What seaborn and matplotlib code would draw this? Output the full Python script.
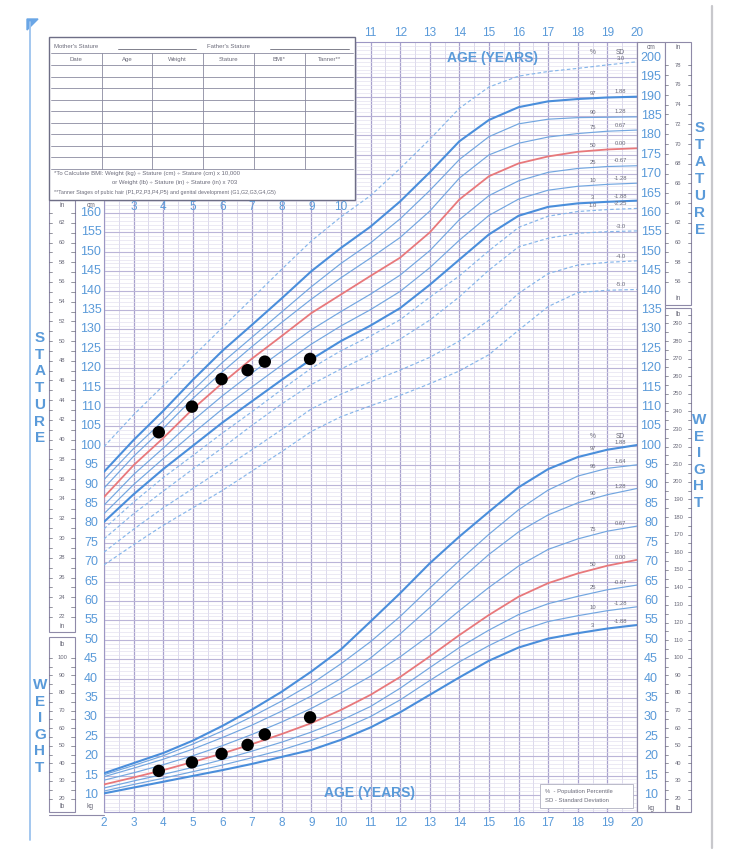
#growth chart: stature and weight for age, boys 2 to 20 years
import numpy as np
import pandas as pd
import seaborn as sns
import matplotlib.pyplot as plt
from matplotlib.patches import Rectangle, Polygon
from matplotlib.transforms import blended_transform_factory

sns.set_theme(style='white')
plt.rcParams['font.family'] = ['Liberation Sans', 'DejaVu Sans']

##### data #####
ages = list(range(2, 21))

# stature (cm)
st_sd_p30 = [99.8, 108.0, 115.5, 123.0, 130.5, 138.0, 145.5, 152.8, 159.0, 164.5, 171.5, 179.0, 187.0, 192.5, 195.3, 196.5, 197.3, 198.2, 199.0]
st_p97 = [93.3, 101.5, 109.0, 117.0, 124.5, 131.2, 138.0, 145.0, 151.0, 156.5, 163.0, 170.5, 178.5, 184.0, 187.3, 188.8, 189.4, 189.8, 190.0]
st_p90 = [91.3, 99.3, 106.5, 114.3, 121.5, 128.0, 134.5, 141.0, 147.0, 152.3, 158.5, 165.8, 173.8, 179.7, 183.0, 184.2, 184.6, 184.7, 184.8]
st_p75 = [89.1, 97.3, 104.5, 112.2, 119.1, 125.6, 131.8, 137.8, 143.3, 148.4, 153.7, 160.5, 169.0, 175.0, 178.0, 179.6, 180.5, 181.1, 181.4]
st_p50 = [86.8, 95.0, 102.0, 109.5, 116.2, 122.5, 128.3, 134.2, 139.0, 143.8, 148.5, 155.0, 163.5, 169.5, 172.8, 174.6, 175.8, 176.4, 176.7]
st_p25 = [84.7, 92.6, 99.4, 106.5, 112.9, 118.8, 124.4, 129.9, 134.6, 139.1, 144.0, 150.3, 158.3, 164.5, 168.3, 170.5, 171.5, 172.0, 172.2]
st_p10 = [82.5, 90.0, 96.7, 103.2, 109.5, 115.2, 120.8, 126.2, 130.9, 135.1, 139.8, 145.9, 153.0, 159.4, 163.6, 165.9, 166.9, 167.4, 167.7]
st_p3 = [80.4, 87.5, 94.0, 100.0, 106.0, 111.5, 117.0, 122.3, 127.0, 131.0, 135.5, 141.5, 148.0, 154.5, 159.3, 161.6, 162.5, 162.9, 163.2]
st_sd_m225 = [78.6, 85.5, 91.8, 97.5, 103.3, 108.8, 114.5, 120.0, 124.5, 128.3, 132.5, 138.3, 143.8, 150.3, 156.3, 159.2, 160.4, 160.9, 161.2]
st_sd_m30 = [76.0, 82.5, 88.3, 94.0, 99.5, 105.3, 110.8, 115.8, 119.8, 123.5, 127.5, 132.4, 138.4, 145.3, 151.3, 153.5, 154.8, 155.2, 155.4]
st_sd_m40 = [72.6, 78.5, 84.0, 89.0, 94.0, 99.0, 104.2, 109.5, 113.3, 116.5, 119.5, 122.8, 127.0, 132.4, 139.3, 144.4, 146.6, 147.3, 147.7]
st_sd_m50 = [69.3, 74.5, 79.5, 84.0, 88.5, 93.5, 98.5, 103.7, 107.5, 110.3, 113.0, 116.0, 119.3, 123.5, 129.8, 135.9, 139.5, 140.1, 140.3]

# weight (kg)
wt_p97 = [15.6, 18.2, 20.8, 24.0, 27.8, 32.0, 36.6, 41.8, 47.5, 54.7, 62.0, 69.7, 76.6, 83.0, 89.3, 94.0, 97.1, 99.0, 100.2]
wt_p95 = [15.2, 17.6, 20.1, 23.1, 26.5, 30.2, 34.2, 38.6, 43.8, 49.5, 56.0, 63.3, 70.4, 77.2, 83.5, 88.6, 92.2, 94.2, 95.1]
wt_p90 = [14.7, 16.9, 19.2, 21.8, 24.8, 28.0, 31.6, 35.5, 40.0, 45.3, 51.5, 58.3, 65.3, 72.0, 77.8, 82.2, 85.3, 87.4, 89.0]
wt_p75 = [13.8, 15.7, 17.8, 20.1, 22.7, 25.6, 28.8, 32.3, 36.3, 40.6, 45.6, 51.2, 57.5, 63.5, 69.0, 73.3, 76.0, 78.0, 79.3]
wt_p50 = [12.7, 14.5, 16.4, 18.5, 20.7, 23.1, 25.7, 28.5, 31.9, 35.8, 40.4, 45.7, 51.2, 56.4, 61.1, 64.6, 67.1, 69.1, 70.6]
wt_p25 = [11.8, 13.6, 15.3, 17.1, 19.1, 21.3, 23.6, 26.2, 29.2, 32.8, 37.5, 42.8, 48.0, 52.5, 56.5, 59.3, 61.2, 62.9, 64.1]
wt_p10 = [11.0, 12.7, 14.3, 16.0, 17.7, 19.6, 21.6, 24.0, 26.8, 30.2, 34.5, 39.5, 44.3, 48.5, 52.2, 54.7, 56.2, 57.5, 58.5]
wt_p3 = [10.4, 11.9, 13.4, 14.9, 16.4, 18.0, 19.8, 21.6, 24.2, 27.4, 31.3, 35.8, 40.3, 44.6, 48.0, 50.3, 51.7, 52.9, 53.8]

# patient measurements
visit_ages = [3.85, 4.97, 5.97, 6.85, 7.43, 8.96]
visit_stature = [103.5, 110.1, 117.2, 119.5, 121.7, 122.4]
visit_weight = [16.2, 18.4, 20.6, 22.9, 25.6, 30.0]

THICK = '#4a8edb'
THIN = '#72a6e0'
DASH = '#86b6ea'
RED = '#e8787b'
LABEL = '#5a9ad9'
GRAY = '#6b6b7a'

st_curves = [
    (st_sd_p30, '', '3.0', 'sd'),
    (st_p97, '97', '1.88', 'thick'),
    (st_p90, '90', '1.28', 'thin'),
    (st_p75, '75', '0.67', 'thin'),
    (st_p50, '50', '0.00', 'red'),
    (st_p25, '25', '-0.67', 'thin'),
    (st_p10, '10', '-1.28', 'thin'),
    (st_p3, '3', '-1.88', 'thick'),
    (st_sd_m225, '1.0', '-2.25', 'sd'),
    (st_sd_m30, '', '-3.0', 'sd'),
    (st_sd_m40, '', '-4.0', 'sd'),
    (st_sd_m50, '', '-5.0', 'sd'),
]
wt_curves = [
    (wt_p97, '97', '1.88', 'thick'),
    (wt_p95, '95', '1.64', 'thin'),
    (wt_p90, '90', '1.28', 'thin'),
    (wt_p75, '75', '0.67', 'thin'),
    (wt_p50, '50', '0.00', 'red'),
    (wt_p25, '25', '-0.67', 'thin'),
    (wt_p10, '10', '-1.28', 'thin'),
    (wt_p3, '3', '-1.88', 'thick'),
]
styles = {
    'thick': dict(color=THICK, lw=1.5, linestyle='-'),
    'thin': dict(color=THIN, lw=0.85, linestyle='-'),
    'red': dict(color=RED, lw=1.3, linestyle='-'),
    'sd': dict(color=DASH, lw=0.85, linestyle=(0, (3, 2))),
}

##### figure #####
W, H = 735, 856
fig = plt.figure(figsize=(W / 100, H / 100), dpi=100)
fig.patch.set_facecolor('white')

# main grid axes: age 2..20, shared cm / kg scale
ax = fig.add_axes([104 / W, 1 - 812 / H, 533 / W, 770 / H])
ax.set_xlim(2, 20)
ax.set_ylim(5.6, 204.1)
ax.set_xticks(np.arange(2, 20.01, 1))
ax.set_xticks(np.arange(2, 20.01, 0.5), minor=True)
ax.set_yticks(np.arange(10, 205, 5))
ax.set_yticks(np.arange(6, 205, 1), minor=True)
ax.grid(which='major', axis='x', color='#a8a1cd', lw=0.9)
ax.grid(which='minor', axis='x', color='#cfcbe4', lw=0.5)
ax.grid(which='major', axis='y', color='#bbb5d8', lw=0.8)
ax.grid(which='minor', axis='y', color='#e1dfee', lw=0.45)
ax.set_axisbelow(True)
ax.tick_params(which='both', length=0, labelbottom=False, labelleft=False)
for s in ax.spines.values():
    s.set_color('#9d97c4')
    s.set_linewidth(0.8)

for vals, pct, sd, kind in st_curves + wt_curves:
    sns.lineplot(x=ages, y=vals, ax=ax, zorder=3, **styles[kind])
    y_pct = np.interp(18.5, ages, vals)
    y_sd = np.interp(19.45, ages, vals)
    if pct:
        ax.text(18.5, y_pct + 0.7, pct, fontsize=4.2, color=GRAY, ha='center', va='bottom', zorder=4)
    ax.text(19.45, y_sd + 0.7, sd, fontsize=4.2, color=GRAY, ha='center', va='bottom', zorder=4)

sns.scatterplot(x=visit_ages, y=visit_stature, ax=ax, s=80, color='black', edgecolor='none', zorder=6)
sns.scatterplot(x=visit_ages, y=visit_weight, ax=ax, s=80, color='black', edgecolor='none', zorder=6)

for x, txt, yv in [(18.5, '%', 201.5), (19.45, 'SD', 201.5), (18.5, '%', 102.5), (19.45, 'SD', 102.5)]:
    ax.text(x, yv, txt, fontsize=4.8, color=GRAY, ha='center', va='center', zorder=4)

##### overlay in pixel space #####
ov = fig.add_axes([0, 0, 1, 1], zorder=5)
ov.set_xlim(0, W)
ov.set_ylim(H, 0)
ov.axis('off')
lab = blended_transform_factory(ov.transData, ax.transData)
agex = blended_transform_factory(ax.transData, ov.transData)

# frame lines
ov.plot([30, 30], [22, 840], color='#9cc3ee', lw=1.3)
ov.add_patch(Polygon([(27, 19), (38, 19), (27, 30)], color='#6aa6e6'))
ov.plot([712, 712], [6, 848], color='#c8c8cc', lw=1.6)

box_kw = dict(facecolor='white', edgecolor='#8f8aa8', lw=0.8)
# left columns
ov.add_patch(Rectangle((49, 200), 26, 432, **box_kw))
ov.add_patch(Rectangle((49, 637), 26, 175, **box_kw))
ov.plot([49, 104], [815, 815], color='#8f8aa8', lw=0.8)
# right columns
ov.add_patch(Rectangle((637, 42), 28, 770, facecolor='none', edgecolor='#8f8aa8', lw=0.8))
ov.add_patch(Rectangle((665, 42), 26, 263, **box_kw))
ov.add_patch(Rectangle((665, 308), 26, 504, **box_kw))

big = dict(fontsize=9, color=LABEL, ha='center', va='center', transform=lab)
small = dict(fontsize=4.2, color=GRAY, ha='center', va='center', transform=lab)

for v in range(55, 161, 5):
    ov.text(91, v, str(v), **big)
for v in range(10, 51, 5):
    ov.text(91, v, str(v), **big)
for v in range(10, 201, 5):
    ov.text(651, v, str(v), **big)

# inch and pound scales
for inch in range(22, 64):
    cm = inch * 2.54
    ov.plot([49, 52.5], [cm, cm], color=GRAY, lw=0.5, transform=lab)
    ov.plot([71.5, 75], [cm, cm], color=GRAY, lw=0.5, transform=lab)
    if inch % 2 == 0:
        ov.text(62, cm, str(inch), **small)
for inch in range(56, 79):
    cm = inch * 2.54
    ov.plot([665, 668], [cm, cm], color=GRAY, lw=0.5, transform=lab)
    ov.plot([688, 691], [cm, cm], color=GRAY, lw=0.5, transform=lab)
    if inch % 2 == 0:
        ov.text(678, cm, str(inch), **small)
for lb in range(20, 101, 5):
    kg = lb * 0.4536
    ov.plot([49, 52.5], [kg, kg], color=GRAY, lw=0.5, transform=lab)
    ov.plot([71.5, 75], [kg, kg], color=GRAY, lw=0.5, transform=lab)
    if lb % 10 == 0:
        ov.text(62, kg, str(lb), **small)
for lb in range(20, 296, 5):
    kg = lb * 0.4536
    ov.plot([665, 668], [kg, kg], color=GRAY, lw=0.5, transform=lab)
    ov.plot([688, 691], [kg, kg], color=GRAY, lw=0.5, transform=lab)
    if lb % 10 == 0:
        ov.text(678, kg, str(lb), **small)

unit = dict(fontsize=4.8, color=GRAY, ha='center', va='center')
for x, y, t in [(62, 205, 'in'), (91, 205, 'cm'), (62, 627, 'in'), (62, 644, 'lb'),
                (62, 807, 'lb'), (90, 807, 'kg'), (651, 47, 'cm'), (678, 47, 'in'),
                (678, 298, 'in'), (678, 315, 'lb'), (651, 808, 'kg'), (678, 808, 'lb')]:
    ov.text(x, y, t, **unit)

# vertical titles
letter = dict(fontsize=11, color=LABEL, fontweight='bold', ha='center', va='center')
for i, ch in enumerate('STATURE'):
    ov.text(40, 338 + 16.7 * i, ch, **letter)
    ov.text(700, 128 + 17 * i, ch, **letter)
for i, ch in enumerate('WEIGHT'):
    ov.text(40, 685 + 16.6 * i, ch, **letter)
    ov.text(699, 420 + 16.6 * i, ch, **letter)

# age labels
age_kw = dict(fontsize=8.5, color=LABEL, ha='center', va='center', transform=agex)
for a in range(11, 21):
    ov.text(a, 33, str(a), **age_kw)
for a in range(2, 21):
    ov.text(a, 823, str(a), **age_kw)
for a in range(3, 11):
    ov.text(a, 207, str(a), **age_kw)
ov.text(493, 58, 'AGE (YEARS)', fontsize=10, color=LABEL, fontweight='bold', ha='center', va='center')
ov.text(370, 793, 'AGE (YEARS)', fontsize=10, color=LABEL, fontweight='bold', ha='center', va='center')

# record table
ov.add_patch(Rectangle((49, 37), 306, 163, facecolor='white', edgecolor='#6e6e86', lw=1.0))
tab = dict(fontsize=4.3, color=GRAY, va='center')
ov.text(54, 46, "Mother's Stature", **tab)
ov.plot([118, 196], [49, 49], color=GRAY, lw=0.6)
ov.text(207, 46, "Father's Stature", **tab)
ov.plot([270, 349], [49, 49], color=GRAY, lw=0.6)
row_y = [53, 65, 76.5, 88, 99.5, 111, 122.5, 134, 145.5, 157, 168.5]
for y in row_y:
    ov.plot([51, 353], [y, y], color='#8a8aa0', lw=0.6)
col_x = [102, 152, 203, 254, 305]
for x in col_x:
    ov.plot([x, x], [53, 168.5], color='#8a8aa0', lw=0.6)
headers = ['Date', 'Age', 'Weight', 'Stature', 'BMI*', 'Tanner**']
for x, t in zip([76, 127, 177.5, 228.5, 279.5, 330], headers):
    ov.text(x, 59, t, ha='center', **tab)
ov.text(54, 173, '*To Calculate BMI: Weight (kg) \u00f7 Stature (cm) \u00f7 Stature (cm) x 10,000', **tab)
ov.text(112, 182.5, 'or Weight (lb) \u00f7 Stature (in) \u00f7 Stature (in) x 703', **tab)
ov.text(54, 192, '**Tanner Stages of pubic hair (P1,P2,P3,P4,P5) and genital development (G1,G2,G3,G4,G5)',
        fontsize=3.9, color=GRAY, va='center')

# legend box
ov.add_patch(Rectangle((540, 784), 93, 24, facecolor='white', edgecolor='#b0b0c0', lw=0.6))
ov.text(545, 792, '%  - Population Percentile', fontsize=4.2, color=GRAY, va='center')
ov.text(545, 801, 'SD - Standard Deviation', fontsize=4.2, color=GRAY, va='center')

fig.savefig('out.png', dpi=100)
